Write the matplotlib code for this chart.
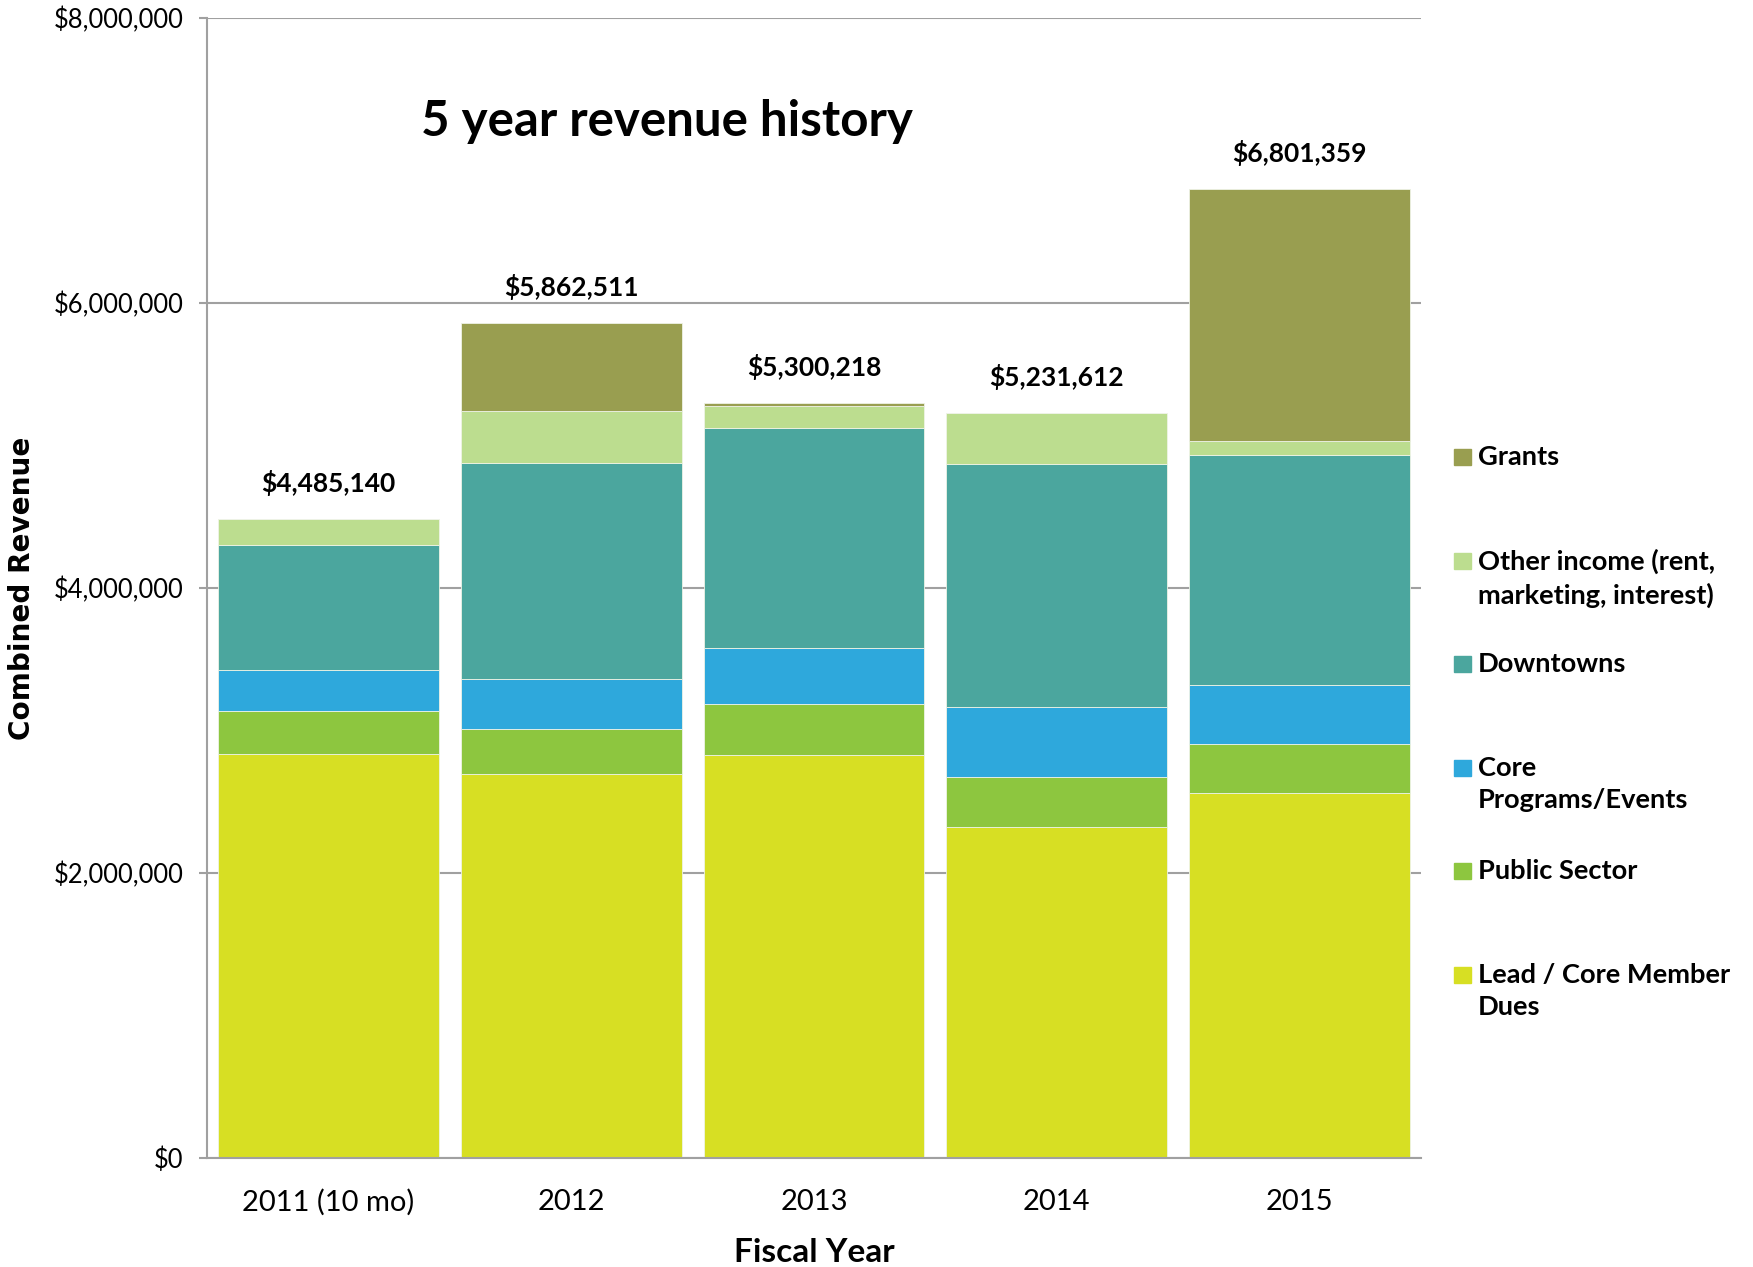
import numpy as np
import matplotlib
matplotlib.use('Agg')
import matplotlib.pyplot as plt
from matplotlib.patches import Rectangle
from matplotlib.ticker import FuncFormatter

plt.rcParams['font.family'] = ['Lato', 'DejaVu Sans']

years = ['2011 (10 mo)', '2012', '2013', '2014', '2015']
# values in $ millions, bottom to top
lead = [2.837, 2.693, 2.828, 2.323, 2.561]
public = [0.300, 0.320, 0.360, 0.351, 0.342]
core = [0.288, 0.346, 0.389, 0.490, 0.413]
downtowns = [0.877, 1.518, 1.546, 1.703, 1.617]
other = [0.183, 0.365, 0.156, 0.364, 0.097]
grants = [0.0, 0.620, 0.021, 0.0, 1.771]
totals = [4485140, 5862511, 5300218, 5231612, 6801359]

series = [
    ('Lead / Core Member\nDues', lead, '#D7DF23'),
    ('Public Sector', public, '#8DC63F'),
    ('Core\nPrograms/Events', core, '#2EA8DC'),
    ('Downtowns', downtowns, '#4BA69E'),
    ('Other income (rent,\nmarketing, interest)', other, '#BCDD8F'),
    ('Grants', grants, '#999E50'),
]

W, H = 1753, 1267
fig = plt.figure(figsize=(W/100, H/100), dpi=100)
ax = fig.add_axes([207/W, 1-1158/H, (1421-207)/W, (1158-18)/H])

x = np.arange(len(years))
bottom = np.zeros(len(years))
for name, vals, col in series:
    v = np.array(vals)*1e6
    ax.bar(x, v, 0.91, bottom=bottom, color=col, edgecolor='#eef3e6', linewidth=0.6, zorder=2)
    bottom += v

for i, t in enumerate(totals):
    ax.text(x[i], t + 0.25e6, f'${t:,}', ha='center', va='center',
            fontsize=19, fontweight='bold', zorder=3)

ax.set_xlim(-0.5, len(years)-0.5)
ax.set_ylim(0, 8e6)
ax.set_yticks(np.arange(0, 8.1e6, 2e6))
ax.yaxis.set_major_formatter(FuncFormatter(lambda v, p: f'${v:,.0f}'))
ax.set_xticks(x)
ax.set_xticklabels(years)
ax.grid(axis='y', color='#a0a0a0', linewidth=1.5, zorder=0)
ax.set_axisbelow(True)
for s in ['top', 'right']:
    ax.spines[s].set_visible(False)
for s in ['left', 'bottom']:
    ax.spines[s].set_color('#a0a0a0')
    ax.spines[s].set_linewidth(1.5)
ax.tick_params(axis='y', length=6, width=1.5, color='#a0a0a0', labelsize=18.4, pad=11)
ax.tick_params(axis='x', length=0, labelsize=21, pad=22)

ax.set_xlabel('Fiscal Year', fontsize=24, fontweight='bold', va='top')
ax.xaxis.set_label_coords(0.5, -0.070)
ax.set_ylabel('Combined Revenue', fontsize=20.1, fontweight='bold', family='DejaVu Sans')
ax.yaxis.set_label_coords(-0.141, 0.5)

ax.text(0.379, 0.909, '5 year revenue history', transform=ax.transAxes,
        ha='center', va='center', fontsize=35.5, fontweight='bold')

# legend, drawn top to bottom
ly0, dy = 457, 103.6
for k, (name, vals, col) in enumerate(series[::-1]):
    yy = ly0 + k*dy
    fig.patches.append(Rectangle((1454/W, 1-(yy+8)/H), 17/W, 16/H,
                                 transform=fig.transFigure, color=col))
    fig.text(1478/W, 1-(yy-12)/H, name, ha='left', va='top', fontsize=19.6,
             fontweight='bold', linespacing=1.42)

fig.savefig('out.png', dpi=100)
